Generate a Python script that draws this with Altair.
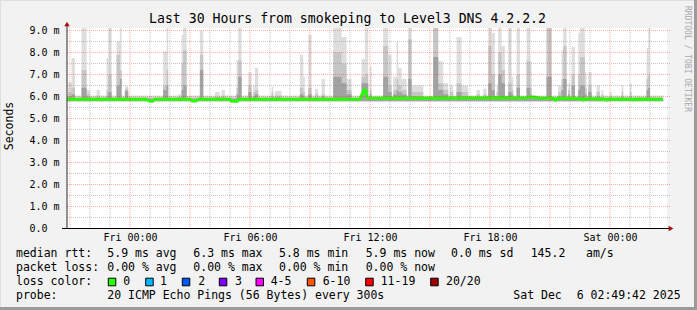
import json
from datetime import datetime, timezone

import altair as alt
import pandas as pd

# ---------------------------------------------------------------- data
START = "2025-12-04 20:49:42"
END = "2025-12-06 02:49:42"
STEP_MIN = 5
N_STEPS = 358           # 5-minute samples drawn

TITLE = "Last 30 Hours from smokeping to Level3 DNS 4.2.2.2"
Y_TITLE = "Seconds"
WATERMARK = "RRDTOOL / TOBI OETIKER"

y_ticks = [0, 1, 2, 3, 4, 5, 6, 7, 8, 9]
y_top = 9.09
y_minor = [0.5, 1.5, 2.5, 3.5, 4.5, 5.5, 6.5, 7.5, 8.5]

x_tick_times = ["2025-12-05 00:00:00", "2025-12-05 06:00:00", "2025-12-05 12:00:00",
                "2025-12-05 18:00:00", "2025-12-06 00:00:00"]
x_tick_labels = ["Fri 00:00", "Fri 06:00", "Fri 12:00", "Fri 18:00", "Sat 00:00"]
first_grid_hour = "2025-12-04 21:00:00"
grid_hours = 30
major_every = 3

# smoke: lowest ping, default band
smoke_floor = 5.78
base_max = 6.05
base_mid = 5.95
base_dark = 5.90

# spikes: start (minutes after START), duration (min), max ping, mid band, dark band
spike_start = [5, 15, 45, 60, 90, 120, 125, 150, 160, 175, 290, 300, 335, 345, 350, 400, 445,
               465, 510, 515, 545, 560, 565, 615, 625, 700, 710, 725, 745, 765, 800, 825, 840,
               885, 895, 910, 950, 965, 980, 990, 995, 1005, 1025, 1035, 1100, 1115, 1130, 1150,
               1170, 1185, 1230, 1250, 1265, 1275, 1290, 1295, 1305, 1325, 1335, 1350, 1380,
               1390, 1440, 1475, 1485, 1490, 1505, 1515, 1535, 1540, 1555, 1565, 1590, 1605,
               1630, 1665, 1690, 1740, 1745]
spike_dur = [10, 10, 15, 10, 10, 5, 10, 10, 5, 10, 10, 5, 10, 5, 10, 10, 15,
             10, 5, 10, 10, 5, 10, 5, 20, 10, 5, 10, 10, 10, 25, 15, 15,
             10, 10, 5, 15, 10, 10, 5, 10, 15, 10, 35, 15, 15, 15, 10,
             15, 20, 10, 10, 10, 10, 5, 10, 10, 10, 5, 10, 10,
             5, 15, 10, 5, 10, 5, 10, 5, 15, 5, 10, 10, 5,
             5, 5, 5, 5, 5]
spike_max = [6.65, 7.75, 9.5, 6.3, 6.3, 7.75, 9.5, 8.5, 9.5, 6.45, 8.05, 9.5, 6.1, 8.8, 9.5, 9.0, 6.2,
             6.3, 7.65, 9.5, 7.1, 6.5, 7.3, 6.45, 6.25, 7.9, 6.9, 8.8, 6.35, 6.8, 9.5, 8.7, 6.8,
             7.7, 9.5, 7.35, 9.5, 7.9, 6.9, 8.5, 7.3, 6.8, 9.5, 6.5, 9.5, 7.6, 6.6, 6.5,
             8.7, 6.5, 6.3, 6.35, 9.5, 8.9, 6.5, 9.5, 8.3, 9.3, 6.9, 9.5, 9.5,
             7.6, 9.5, 6.5, 8.1, 9.5, 6.6, 8.25, 8.9, 9.5, 7.1, 7.1, 6.5, 6.3,
             6.2, 6.5, 6.6, 8.2, 9.5]
spike_mid = [6.2, 6.4, 7.2, 6.1, 6.05, 6.3, 7.0, 7.9, 7.2, 6.35, 6.5, 7.2, 6.0, 7.5, 8.1, 7.9, 6.0,
             6.05, 6.4, 7.65, 6.5, 6.2, 6.3, 6.2, 6.05, 6.4, 6.2, 6.4, 6.1, 6.1, 8.0, 7.5, 6.3,
             6.9, 7.0, 6.3, 8.3, 6.5, 6.3, 6.8, 6.5, 6.3, 8.6, 6.2, 9.5, 6.6, 6.3, 6.2,
             6.6, 6.2, 6.1, 6.1, 8.3, 7.0, 6.2, 8.0, 7.2, 6.6, 6.3, 7.0, 7.6,
             6.4, 9.5, 6.2, 6.8, 8.3, 6.3, 7.0, 7.0, 7.8, 6.4, 6.5, 6.2, 6.1,
             6.05, 6.2, 6.2, 6.8, 7.0]
spike_dark = [6.0, 6.1, 6.4, 6.0, 5.95, 6.0, 6.2, 6.5, 6.8, 6.25, 6.3, 6.5, 5.95, 6.3, 6.5, 7.2, 5.95,
              5.95, 6.1, 6.9, 6.2, 6.0, 6.1, 6.0, 5.95, 6.1, 6.0, 6.1, 5.95, 6.0, 6.9, 6.6, 6.1,
              6.6, 6.6, 6.1, 6.9, 6.2, 6.1, 6.3, 6.2, 6.1, 6.8, 6.0, 7.8, 6.3, 6.1, 6.0,
              6.2, 6.0, 5.95, 5.95, 6.6, 6.3, 6.0, 7.0, 6.6, 6.2, 6.1, 6.4, 6.4,
              6.1, 6.9, 6.0, 6.3, 6.8, 6.1, 6.5, 6.3, 6.5, 6.1, 6.2, 6.0, 5.95,
              5.95, 6.0, 6.0, 6.3, 6.4]

# median rtt (minutes after START, ms)
median_min = [0, 60, 120, 240, 250, 258, 265, 370, 377, 388, 395, 490, 495, 512, 518, 700,
              880, 885, 892, 897, 902, 1000, 1200, 1380, 1400, 1420, 1460, 1467, 1473, 1545,
              1550, 1556, 1615, 1620, 1626, 1695, 1700, 1705, 1788]
median_ms = [5.87, 5.88, 5.87, 5.87, 5.78, 5.78, 5.87, 5.87, 5.80, 5.80, 5.87, 5.87, 5.78, 5.78,
             5.87, 5.88, 5.88, 6.05, 6.30, 6.30, 5.93, 5.92, 5.93, 5.94, 5.98, 5.93, 5.92, 5.83,
             5.92, 5.90, 5.84, 5.90, 5.89, 5.84, 5.89, 5.88, 5.85, 5.88, 5.87]

legend_line1 = ["median rtt:", "5.9 ms avg", "6.3 ms max", "5.8 ms min", "5.9 ms now",
                "0.0 ms sd", "145.2", "am/s"]
legend_line2 = ["packet loss:", "0.00 % avg", "0.00 % max", "0.00 % min", "0.00 % now"]
loss_title = "loss color:"
loss_labels = ["0", "1", "2", "3", "4-5", "6-10", "11-19", "20/20"]
loss_colors = ["#26ff00", "#00b8ff", "#0059ff", "#7e00ff", "#ff00ff", "#ff5500", "#ff0000", "#a10000"]
probe_line = ["probe:", "20 ICMP Echo Pings (56 Bytes) every 300s", "Sat Dec", "6 02:49:42 2025"]

# ---------------------------------------------------------------- layout / style
W, H = 600, 200
PL, PT = 67, 28
FONT = "DejaVu Sans Mono"
SMOKE_COLORS = ["#dedede", "#c6c6c6", "#a2a2a2"]

line1_x = [16, 107.3, 193.3, 279, 365.7, 451, 530.7, 586]
line2_x = [16, 107.3, 193.3, 279, 365.7]
loss_box_x = [108.3, 145.7, 182.3, 219.3, 256, 307.3, 365.7, 430.7]
loss_lab_x = [123.3, 160, 198.3, 235, 270.7, 322.7, 380.7, 446]
probe_x = [16, 107.3, 513.3, 576.7]
line_y = [254, 268, 282, 296]


def ms(s):
    return int(datetime.strptime(s, "%Y-%m-%d %H:%M:%S").replace(tzinfo=timezone.utc).timestamp() * 1000)


MINUTE = 60000
HOUR = 60 * MINUTE
t0, t1 = ms(START), ms(END)

# smoke table
maxv = [base_max] * N_STEPS
midv = [base_mid] * N_STEPS
darkv = [base_dark] * N_STEPS
for s, d, a, b, c in zip(spike_start, spike_dur, spike_max, spike_mid, spike_dark):
    for k in range(s // STEP_MIN, (s + d) // STEP_MIN):
        if 0 <= k < N_STEPS:
            maxv[k], midv[k], darkv[k] = a, b, c
times = [t0 + k * STEP_MIN * MINUTE for k in range(N_STEPS)] + [t0 + N_STEPS * STEP_MIN * MINUTE]
smoke = pd.DataFrame({
    "t": times,
    "lo": [smoke_floor] * (N_STEPS + 1),
    "mx": maxv + [maxv[-1]],
    "md": midv + [midv[-1]],
    "dk": darkv + [darkv[-1]],
})
median = pd.DataFrame({"t": [t0 + m * MINUTE for m in median_min], "v": median_ms})

g0 = ms(first_grid_hour)
grid = pd.DataFrame({"t": [g0 + h * HOUR for h in range(grid_hours)],
                     "major": [(h % major_every) == 0 for h in range(grid_hours)]})
ygrid = pd.DataFrame({"v": y_minor + y_ticks[1:],
                      "major": [False] * len(y_minor) + [True] * (len(y_ticks) - 1)})

# ranges nudged by a fraction of a pixel so 1px grid lines land on whole pixels
xscale = alt.Scale(type="utc", domain=[t0, t1], range=[-0.43, W - 0.43])
yscale = alt.Scale(domain=[0, y_top], range=[H + 0.5, 0.5])

x_axis = alt.Axis(values=[ms(s) for s in x_tick_times],
                  labelExpr="utcFormat(datum.value, '%a %H:%M')",
                  grid=False, ticks=False, domain=False, title=None,
                  labelFont=FONT, labelFontSize=10, labelColor="#000", labelPadding=4)
y_axis = alt.Axis(values=y_ticks,
                  labelExpr="datum.value == 0 ? '0.0' : format(datum.value, '.1f') + ' m'",
                  grid=False, ticks=False, tickSize=0, domain=False, title=None,
                  labelFont=FONT, labelFontSize=10, labelColor="#000",
                  labelAlign="left", labelPadding=38)


def X(field="t:T"):
    return alt.X(field, scale=xscale, axis=x_axis)


def Y(field):
    return alt.Y(field, scale=yscale, axis=y_axis)


layers = []
# smoke bands
for col, color in zip(["mx", "md", "dk"], SMOKE_COLORS):
    layers.append(alt.Chart(smoke).mark_area(interpolate="step-after", color=color, clip=True).encode(
        x=X(), y=Y("lo:Q"), y2=alt.Y2(f"{col}:Q")))

# median line
layers.append(alt.Chart(median).mark_line(color="#26ff00", strokeWidth=3, clip=True).encode(
    x=X(), y=Y("v:Q")))

# grid (drawn over the data like rrdtool)
layers.append(alt.Chart(grid).transform_filter("!datum.major").mark_rule(
    color="#8c8c8c", opacity=0.5, strokeDash=[1, 1]).encode(
    x=X(), y=alt.value(0), y2=alt.value(H)))
layers.append(alt.Chart(ygrid).transform_filter("!datum.major").mark_rule(
    color="#8c8c8c", opacity=0.5, strokeDash=[1, 1]).encode(
    y=Y("v:Q"), x=alt.value(0), x2=alt.value(W + 3)))
layers.append(alt.Chart(grid).transform_filter("datum.major").mark_rule(
    color="#ff0000", opacity=0.32, strokeDash=[1, 1]).encode(
    x=X(), y=alt.value(0), y2=alt.value(H + 2)))
layers.append(alt.Chart(ygrid).transform_filter("datum.major").mark_rule(
    color="#ff0000", opacity=0.32, strokeDash=[1, 1]).encode(
    y=Y("v:Q"), x=alt.value(0), x2=alt.value(W + 3)))

one = alt.Data(values=[{}])


def rule(x1, y1, x2, y2, color, width=1):
    return alt.Chart(one).mark_rule(color=color, strokeWidth=width).encode(
        x=alt.value(x1 - PL), y=alt.value(y1 - PT), x2=alt.value(x2 - PL), y2=alt.value(y2 - PT))


def text(s, px, py, size=11.5, align="left", color="#000", angle=0):
    kw = dict(align=align, baseline="middle", font=FONT, fontSize=size, color=color)
    if angle:
        kw["angle"] = angle
    return alt.Chart(alt.Data(values=[{"s": s}])).mark_text(**kw).encode(
        x=alt.value(px - PL), y=alt.value(py - PT), text="s:N")


# axes
layers.append(rule(67, 25, 67, 228.5, "#2c2c2c"))
layers.append(rule(62, 228.5, 670, 228.5, "#000"))
layers.append(alt.Chart(one).mark_point(shape="triangle-up", filled=True, size=30, color="#a01010", opacity=1)
              .encode(x=alt.value(0), y=alt.value(24 - PT)))
layers.append(alt.Chart(one).mark_point(shape="triangle-right", filled=True, size=30, color="#a01010", opacity=1)
              .encode(x=alt.value(671 - PL), y=alt.value(228.5 - PT)))

# texts
layers.append(text(TITLE, 347.5, 19, size=13.2, align="center"))
layers.append(text(Y_TITLE, 10, 126, size=11.5, align="center", angle=270))
layers.append(text(WATERMARK, 687, 59, size=8, align="center", color="#a8a8a8", angle=90))
for s, px in zip(legend_line1, line1_x):
    layers.append(text(s, px, line_y[0]))
for s, px in zip(legend_line2, line2_x):
    layers.append(text(s, px, line_y[1]))
layers.append(text(loss_title, 16, line_y[2]))
for s, c, bx, lx in zip(loss_labels, loss_colors, loss_box_x, loss_lab_x):
    layers.append(alt.Chart(one).mark_rect(fill=c, stroke="#000", strokeWidth=1).encode(
        x=alt.value(bx - PL), x2=alt.value(bx + 7.5 - PL),
        y=alt.value(line_y[2] - 3.8 - PT), y2=alt.value(line_y[2] + 3.8 - PT)))
    layers.append(text(s, lx, line_y[2]))
for s, px in zip(probe_line, probe_x):
    layers.append(text(s, px, line_y[3]))

# outer frame (rrdtool shading)
layers.append(rule(0, 0.5, 697, 0.5, "#dedede"))
layers.append(rule(0.5, 0, 0.5, 310, "#dedede"))
layers.append(rule(695.5, 0, 695.5, 310, "#9b9b9b", 3))
layers.append(rule(0, 308.5, 697, 308.5, "#9b9b9b", 3))

chart = alt.layer(*layers).properties(
    width=W, height=H,
    autosize=alt.AutoSizeParams(type="none"),
    padding={"left": PL, "top": PT, "right": 697 - PL - W, "bottom": 310 - PT - H},
    background="#f2f2f2",
).configure_view(fill="white", stroke=None)

chart.save("out.html", embed_options={"renderer": "svg", "actions": False})
